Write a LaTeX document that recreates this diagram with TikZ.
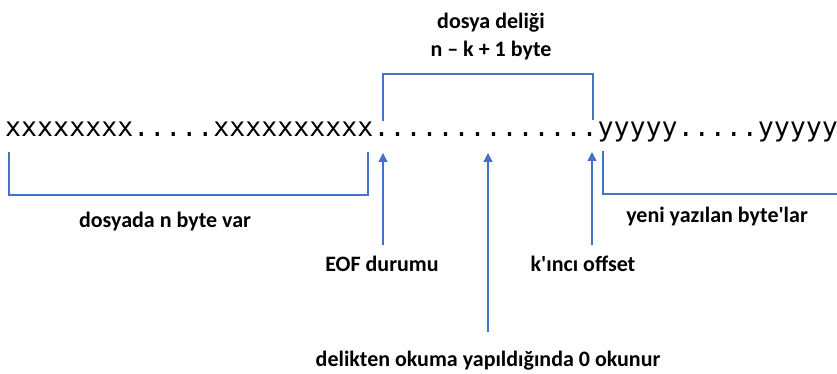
\documentclass[tikz,border=0pt]{standalone}
\usepackage{fontspec}
\setmainfont{Carlito}[Ligatures=TeXOff]
\newfontfamily\monofont{DejaVu Sans Mono}
\usetikzlibrary{positioning, arrows.meta}
\definecolor{ofisblue}{HTML}{4472C4}

\begin{document}
\begin{tikzpicture}[x=1pt, y=-1pt,
    label/.style={font=\bfseries\fontsize{22}{26}\selectfont, inner sep=0pt, anchor=north},
    brace/.style={draw=ofisblue, line width=1.3pt},
    pointer/.style={draw=ofisblue, line width=1.3pt, -{Triangle[width=9pt,length=9pt]}}]
    \useasboundingbox (0,0) rectangle (837,374);

    % the file as a row of bytes
    \node[anchor=base west, inner sep=0pt, font=\monofont\fontsize{26.6}{30}\selectfont]
        (bytes) at (5,137) {xxxxxxxx.....xxxxxxxxxx..............yyyyy.....yyyyy};

    % brackets
    \coordinate (hole l) at (383,121);
    \coordinate (hole r) at (593,120);
    \coordinate (old l)  at (9,152);
    \coordinate (old r)  at (368,152);
    \coordinate (new l)  at (603,151);
    \coordinate (new r)  at (837,194);
    \draw[brace] (hole l) -- (383,74) -| (hole r);
    \draw[brace] (old l) |- (368,195) -- (old r);
    \draw[brace] (new l) |- (new r);

    % labels
    \node[label]                        (hole)    at (491,13)  {dosya deliği};
    \node[label, below=8pt of hole]     (size)                 {n – k + 1 byte};
    \node[label]                        (old)     at (165,212) {dosyada n byte var};
    \node[label]                        (new)     at (717,207) {yeni yazılan byte'lar};
    \node[label]                        (eof)     at (382,256) {EOF durumu};
    \node[label]                        (kinci)   at (583,256) {k'ıncı offset};
    \node[label]                        (read)    at (488,351) {delikten okuma yapıldığında 0 okunur};

    % arrows
    \coordinate (eof tip)   at (383,153);
    \coordinate (read tip)  at (488,153);
    \coordinate (kinci tip) at (592,152);
    \draw[pointer, shorten <=11pt] (eof.north -| eof tip)     -- (eof tip);
    \draw[pointer, shorten <=19pt] (read.north -| read tip)   -- (read tip);
    \draw[pointer, shorten <=11pt] (kinci.north -| kinci tip) -- (kinci tip);
\end{tikzpicture}
\end{document}
